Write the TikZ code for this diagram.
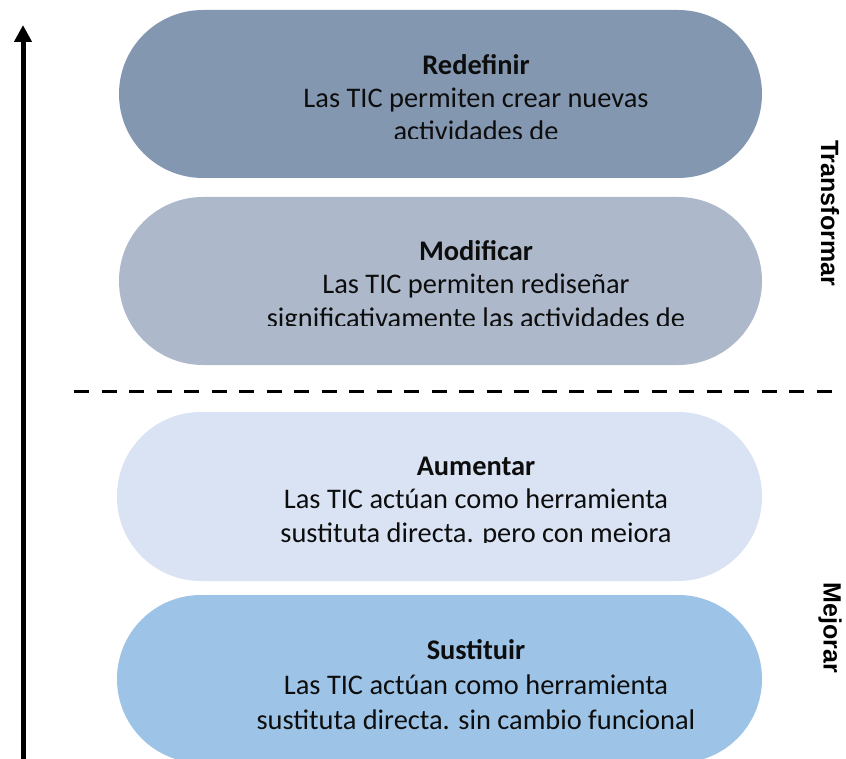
\documentclass[tikz,border=0pt]{standalone}
\usepackage{fontspec}
\setmainfont{Carlito}
\newfontfamily\sidefont{Liberation Sans}
\usetikzlibrary{arrows.meta}
\definecolor{cRedef}{HTML}{8497B0}
\definecolor{cModif}{HTML}{ADB9CA}
\definecolor{cAument}{HTML}{DAE3F3}
\definecolor{cSust}{HTML}{9DC3E6}
\definecolor{txtc}{HTML}{0D0D0D}
\tikzset{
  stadium/.style={rounded corners=84pt},
  boxtext/.style={anchor=base, inner sep=0pt, text=txtc, font=\fontsize{28.4}{34}\selectfont},
  boxtitle/.style={boxtext, font=\fontsize{28.4}{34}\selectfont\bfseries},
  sidelabel/.style={rotate=-90, inner sep=0pt, text=black, font=\sidefont\fontsize{25}{30}\selectfont\bfseries},
  axisline/.style={line width=5pt, -{Triangle[length=17pt,width=17pt]}},
  splitline/.style={line width=3pt, dash pattern=on 15pt off 12.5pt}
}
\begin{document}
\begin{tikzpicture}[x=1pt,y=-1pt]
\useasboundingbox (0,0) rectangle (846,759);
% boxes
\fill[cRedef, stadium] (119,10) rectangle (762,178);
\fill[cModif, stadium] (119,197) rectangle (762,365);
\fill[cAument, stadium] (117,412) rectangle (762,581);
\fill[cSust, stadium] (117,595) rectangle (762,763);
% Redefinir
\begin{scope}
\clip (119,10) rectangle (762,138.5);
\node[boxtitle] (t1) at (476,75) {Redefinir};
\node[boxtext] (t1a) at (476,108) {Las TIC permiten crear nuevas};
\node[boxtext] (t1b) at (476,141) {actividades de};
\end{scope}
% Modificar
\begin{scope}
\clip (119,197) rectangle (762,326);
\node[boxtitle] (t2) at (476,260.5) {Modificar};
\node[boxtext] (t2a) at (476,294) {Las TIC permiten rediseñar};
\node[boxtext] (t2b) at (476,327.5) {significativamente las actividades de};
\end{scope}
% Aumentar
\begin{scope}
\clip (117,412) rectangle (762,542);
\node[boxtitle] (t3) at (476,475) {Aumentar};
\node[boxtext] (t3a) at (476,508.5) {Las TIC actúan como herramienta};
\node[boxtext] (t3b) at (476,542) {sustituta directa. pero con meiora};
\end{scope}
% Sustituir
\node[boxtitle] (t4) at (476,659) {Sustituir};
\node[boxtext] (t4a) at (476,694) {Las TIC actúan como herramienta};
\node[boxtext] (t4b) at (476,729) {sustituta directa. sin cambio funcional};
% dashed separator
\coordinate (dashL) at (74,391);
\coordinate (dashR) at (833,391);
\draw[splitline] (dashL) -- (dashR);
% axis arrow
\coordinate (axisBot) at (23,762);
\coordinate (axisTop) at (23,25);
\draw[axisline] (axisBot) -- (axisTop);
% side labels
\node[sidelabel] (lTrans) at (830,213) {Transformar};
\node[sidelabel] (lMejor) at (830,628) {Mejorar};
\end{tikzpicture}
\end{document}
